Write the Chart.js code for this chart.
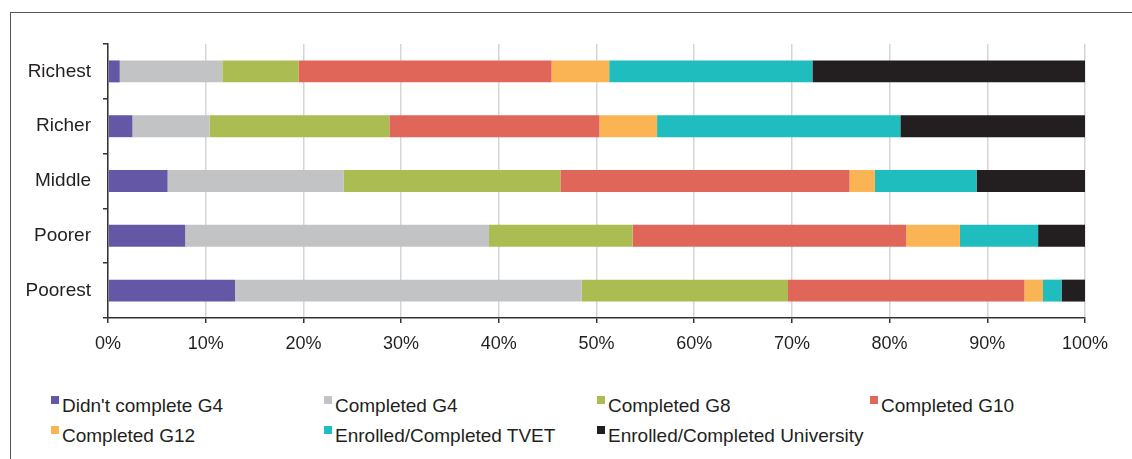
<!DOCTYPE html>
<html>
<head>
<meta charset="utf-8">
<script src="https://cdn.jsdelivr.net/npm/chart.js@4/dist/chart.umd.min.js"></script>
<style>
  body { margin: 0; background: #fff; width: 1132px; height: 459px; overflow: hidden; position: relative; }
  #frame { position: absolute; left: 10px; top: 12px; width: 1200px; height: 500px; border: 1px solid #555; }
  #chart { position: absolute; left: 0; top: 0; }
  .legend-item { position: absolute; height: 22px; white-space: nowrap; font: 19px/22px 'Liberation Sans', Arial, sans-serif; color: #231f20; }
  .legend-box { position: absolute; left: 0; top: 1px; width: 7.5px; height: 8px; }
  .legend-text { position: absolute; left: 11px; top: 0; }
</style>
</head>
<body>
<div id="frame"></div>
<canvas id="chart" width="1132" height="370"></canvas>
<div id="legend"></div>
<script>
// wealth quintiles, top to bottom
const categories = ['Richest', 'Richer', 'Middle', 'Poorer', 'Poorest'];

// share of youth (%) by highest level reached
const didntCompleteG4 = [1.2, 2.5, 6.1, 7.9, 13.0];
const completedG4 = [10.5, 7.9, 18.0, 31.1, 35.5];
const completedG8 = [7.8, 18.4, 22.2, 14.7, 21.1];
const completedG10 = [25.9, 21.5, 29.6, 28.0, 24.2];
const completedG12 = [5.9, 5.9, 2.6, 5.5, 1.9];
const enrolledTVET = [20.8, 24.9, 10.4, 8.0, 1.9];
const enrolledUniversity = [27.9, 18.9, 11.1, 4.8, 2.4];

const xTickLabels = ['0%', '10%', '20%', '30%', '40%', '50%', '60%', '70%', '80%', '90%', '100%'];

const seriesNames = ["Didn't complete G4", 'Completed G4', 'Completed G8', 'Completed G10',
    'Completed G12', 'Enrolled/Completed TVET', 'Enrolled/Completed University'];
const seriesColors = ['#6457a6', '#c2c3c5', '#abbd52', '#e0665a', '#fbb453', '#1fbdbd', '#231f20'];
const seriesData = [didntCompleteG4, completedG4, completedG8, completedG10,
    completedG12, enrolledTVET, enrolledUniversity];

Chart.defaults.font.family = "'Liberation Sans', Arial, sans-serif";
Chart.defaults.color = '#231f20';

const myChart = new Chart(document.getElementById('chart'), {
    type: 'bar',
    data: {
        labels: categories,
        datasets: seriesNames.map((name, i) => ({
            label: name,
            data: seriesData[i],
            backgroundColor: seriesColors[i],
            borderWidth: 0,
            barPercentage: 0.4,
            categoryPercentage: 1
        }))
    },
    options: {
        indexAxis: 'y',
        responsive: false,
        animation: false,
        devicePixelRatio: 1,
        layout: {
            padding: { left: 0, right: 47, top: 44, bottom: 0 }
        },
        plugins: {
            legend: { display: false },
            tooltip: { enabled: false }
        },
        scales: {
            x: {
                stacked: true,
                min: 0,
                max: 100,
                afterFit: (scale) => { scale.height = 52; },
                ticks: {
                    stepSize: 10,
                    padding: 10,
                    font: { size: 18 },
                    callback: (v, i) => xTickLabels[i]
                },
                grid: {
                    color: '#d6d6d6',
                    lineWidth: 1.5,
                    tickColor: '#333',
                    tickLength: 5
                },
                border: { color: '#333', width: 1.5 }
            },
            y: {
                stacked: true,
                afterFit: (scale) => { scale.width = 108; },
                ticks: {
                    padding: 12,
                    font: { size: 19 }
                },
                grid: {
                    drawOnChartArea: false,
                    color: '#333',
                    tickLength: 5,
                    lineWidth: 1.5
                },
                border: { color: '#333', width: 1.5 }
            }
        }
    }
});

// legend laid out in four fixed columns like the original
const legend = document.getElementById('legend');
myChart.data.datasets.forEach((ds, i) => {
    const item = document.createElement('div');
    item.className = 'legend-item';
    item.style.left = (51 + (i % 4) * 273) + 'px';
    item.style.top = (395 + Math.floor(i / 4) * 30) + 'px';
    const box = document.createElement('span');
    box.className = 'legend-box';
    box.style.background = ds.backgroundColor;
    const text = document.createElement('span');
    text.className = 'legend-text';
    text.textContent = ds.label;
    item.appendChild(box);
    item.appendChild(text);
    legend.appendChild(item);
});
</script>
</body>
</html>
